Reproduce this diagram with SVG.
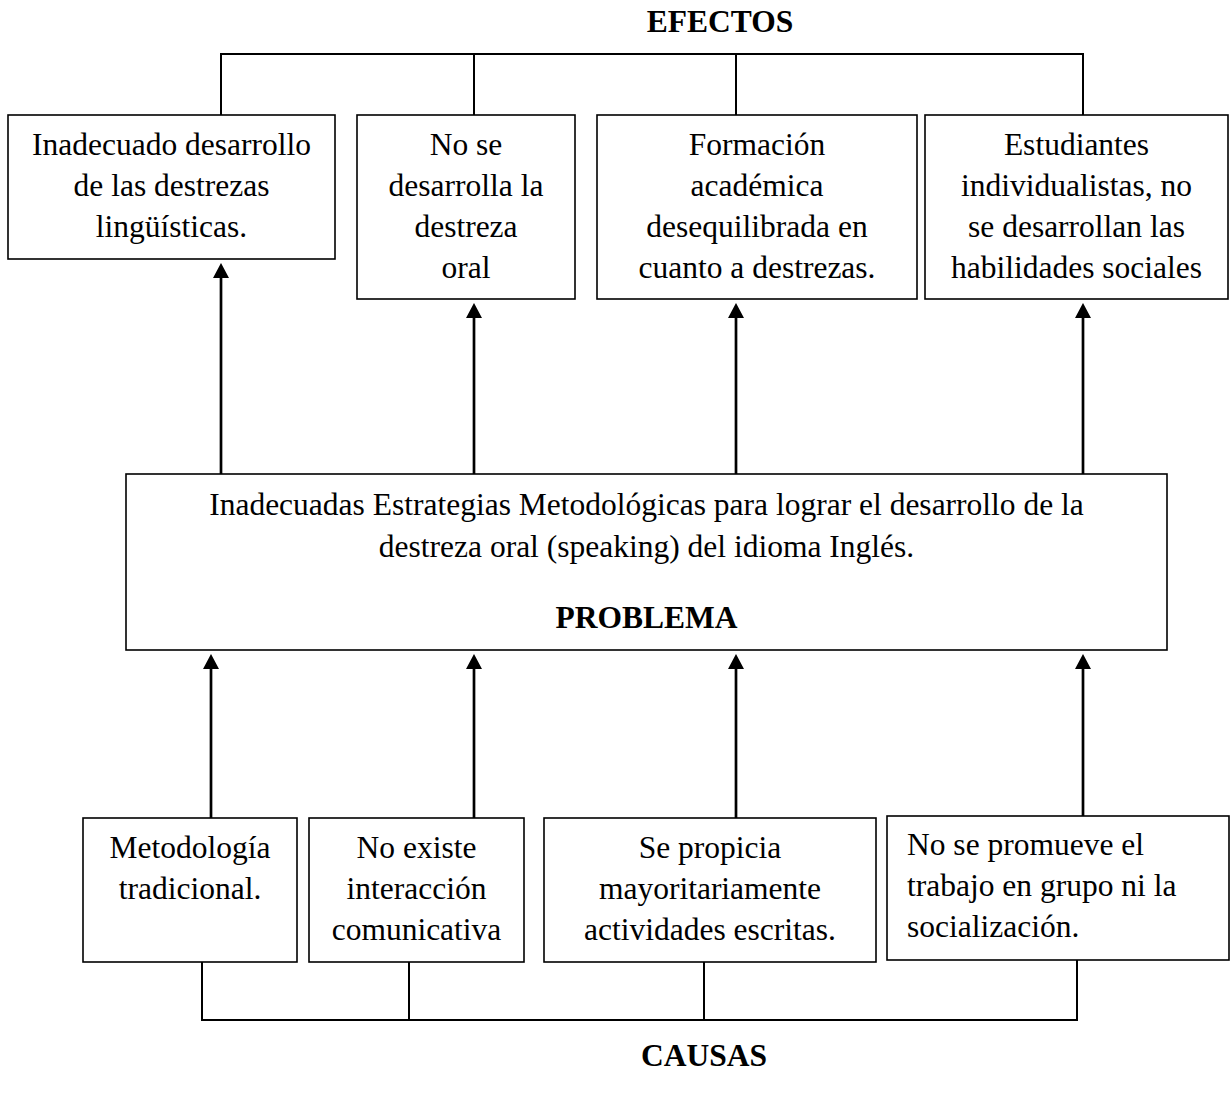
<svg xmlns="http://www.w3.org/2000/svg" width="1230" height="1095" viewBox="0 0 1230 1095">
<style>
.box{fill:#fff;stroke:#000;stroke-width:1.6}
.t{font-family:"Liberation Serif","Times New Roman",serif;font-size:31.5px;fill:#000;text-anchor:middle}
.l{text-anchor:start}
.b{font-weight:bold}
.br{fill:none;stroke:#000;stroke-width:2}
.ar{stroke:#000;stroke-width:2.7;fill:none}
</style>
<defs>
<marker id="ah" viewBox="0 0 15 16" refX="1" refY="8" markerWidth="15" markerHeight="16" markerUnits="userSpaceOnUse" orient="auto">
<path d="M0,0 L15,8 L0,16 z" fill="#000"/>
</marker>
</defs>
<rect width="1230" height="1095" fill="#fff"/>
<text class="t b" x="720" y="32">EFECTOS</text>
<text class="t b" x="704" y="1066">CAUSAS</text>
<g id="connectors">
<path class="br" d="M221,115 V54 H1083 V115 M474,54 V115 M736,54 V115"/>
<path class="br" d="M202,962 V1020 H1077 V960 M409,962 V1020 M704,962 V1020"/>
<line class="ar" x1="221" y1="474" x2="221" y2="277" marker-end="url(#ah)"/>
<line class="ar" x1="474" y1="474" x2="474" y2="317" marker-end="url(#ah)"/>
<line class="ar" x1="736" y1="474" x2="736" y2="317" marker-end="url(#ah)"/>
<line class="ar" x1="1083" y1="474" x2="1083" y2="317" marker-end="url(#ah)"/>
<line class="ar" x1="211" y1="818" x2="211" y2="668" marker-end="url(#ah)"/>
<line class="ar" x1="474" y1="818" x2="474" y2="668" marker-end="url(#ah)"/>
<line class="ar" x1="736" y1="818" x2="736" y2="668" marker-end="url(#ah)"/>
<line class="ar" x1="1083" y1="816" x2="1083" y2="668" marker-end="url(#ah)"/>
</g>
<g id="efecto1">
<rect class="box" x="8" y="115" width="327" height="144"/>
<text class="t" x="171.5" y="155">Inadecuado desarrollo</text>
<text class="t" x="171.5" y="196">de las destrezas</text>
<text class="t" x="171.5" y="237">lingüísticas.</text>
</g>
<g id="efecto2">
<rect class="box" x="357" y="115" width="218" height="184"/>
<text class="t" x="466" y="155">No se</text>
<text class="t" x="466" y="196">desarrolla la</text>
<text class="t" x="466" y="237">destreza</text>
<text class="t" x="466" y="278">oral</text>
</g>
<g id="efecto3">
<rect class="box" x="597" y="115" width="320" height="184"/>
<text class="t" x="757" y="155">Formación</text>
<text class="t" x="757" y="196">académica</text>
<text class="t" x="757" y="237">desequilibrada en</text>
<text class="t" x="757" y="278">cuanto a destrezas.</text>
</g>
<g id="efecto4">
<rect class="box" x="925" y="115" width="303" height="184"/>
<text class="t" x="1076.5" y="155">Estudiantes</text>
<text class="t" x="1076.5" y="196">individualistas, no</text>
<text class="t" x="1076.5" y="237">se desarrollan las</text>
<text class="t" x="1076.5" y="278">habilidades sociales</text>
</g>
<g id="problema">
<rect class="box" x="126" y="474" width="1041" height="176"/>
<text class="t" x="646.5" y="515">Inadecuadas Estrategias Metodológicas para lograr el desarrollo de la</text>
<text class="t" x="646.5" y="557">destreza oral (speaking) del idioma Inglés.</text>
<text class="t b" x="646.5" y="628">PROBLEMA</text>
</g>
<g id="causa1">
<rect class="box" x="83" y="818" width="214" height="144"/>
<text class="t" x="190" y="858">Metodología</text>
<text class="t" x="190" y="899">tradicional.</text>
</g>
<g id="causa2">
<rect class="box" x="309" y="818" width="215" height="144"/>
<text class="t" x="416.5" y="858">No existe</text>
<text class="t" x="416.5" y="899">interacción</text>
<text class="t" x="416.5" y="940">comunicativa</text>
</g>
<g id="causa3">
<rect class="box" x="544" y="818" width="332" height="144"/>
<text class="t" x="710" y="858">Se propicia</text>
<text class="t" x="710" y="899">mayoritariamente</text>
<text class="t" x="710" y="940">actividades escritas.</text>
</g>
<g id="causa4">
<rect class="box" x="887" y="816" width="342" height="144"/>
<text class="t l" x="907" y="855">No se promueve el</text>
<text class="t l" x="907" y="896">trabajo en grupo ni la</text>
<text class="t l" x="907" y="937">socialización.</text>
</g>
</svg>
